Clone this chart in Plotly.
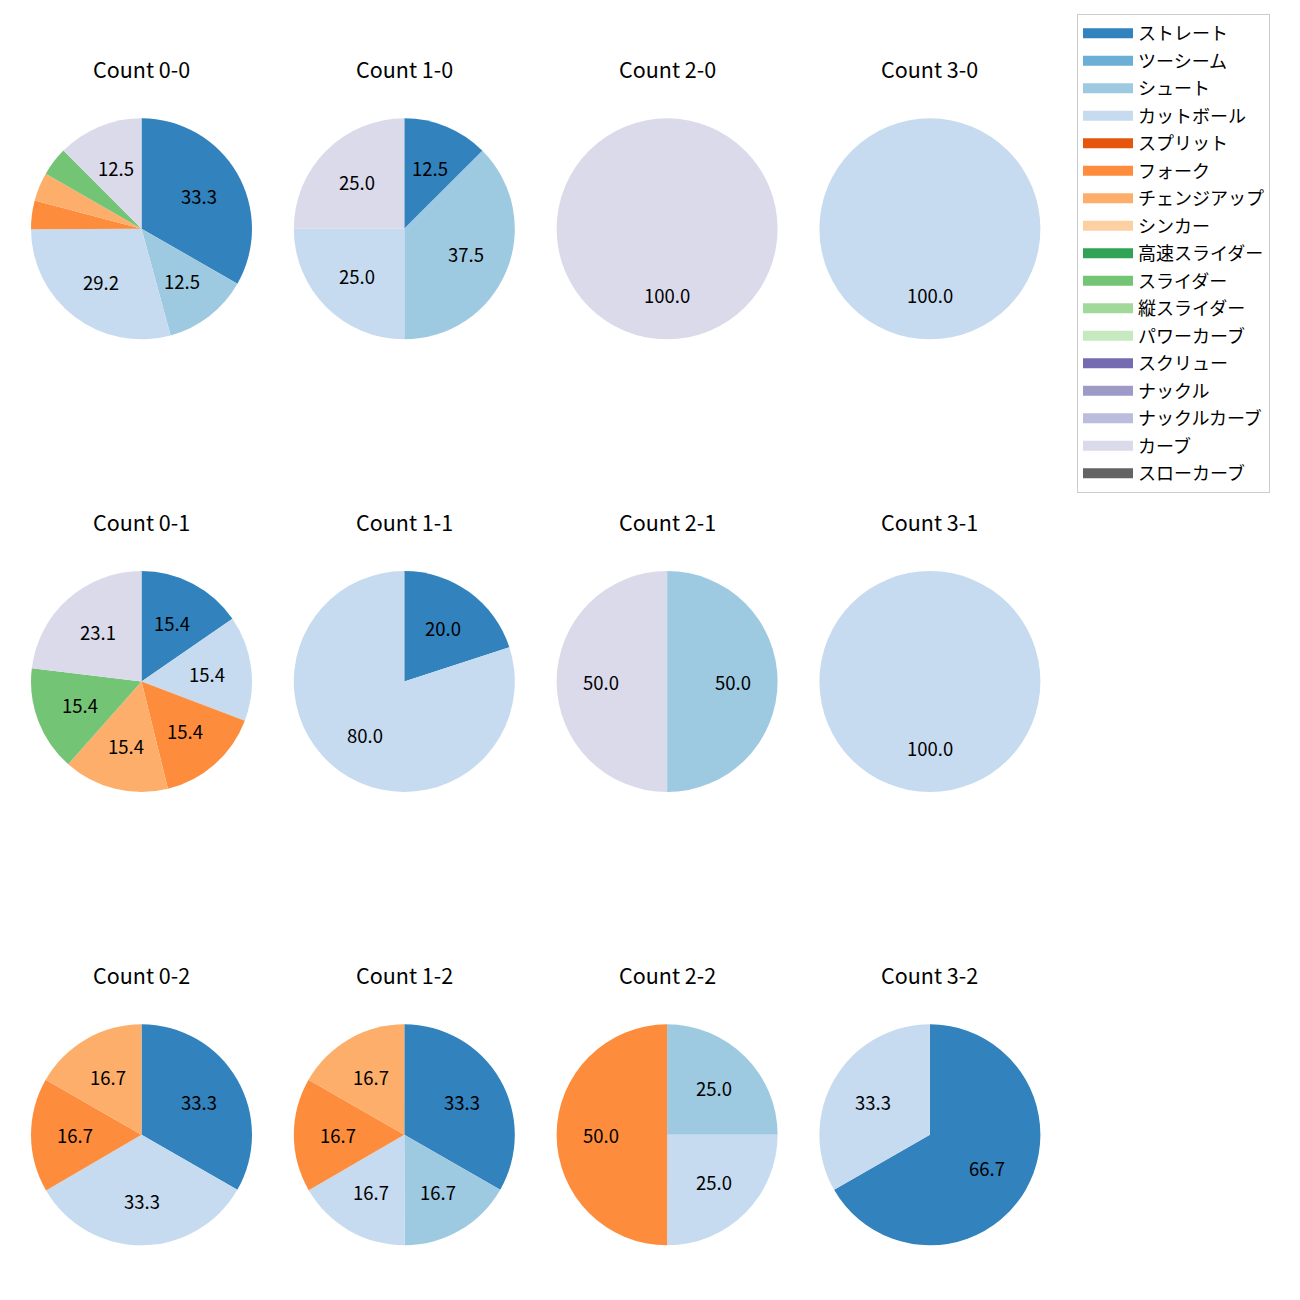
import math
import plotly.graph_objects as go

# ---- data ----
pitch_types = ["ストレート", "ツーシーム", "シュート", "カットボール", "スプリット", "フォーク",
               "チェンジアップ", "シンカー", "高速スライダー", "スライダー", "縦スライダー",
               "パワーカーブ", "スクリュー", "ナックル", "ナックルカーブ", "カーブ", "スローカーブ"]
pitch_colors = ["#3182bd", "#6baed6", "#9ecae1", "#c6dbef", "#e6550d", "#fd8d3c",
                "#fdae6b", "#fdd0a2", "#31a354", "#74c476", "#a1d99b", "#c7e9c0",
                "#756bb1", "#9e9ac8", "#bcbddc", "#dadaeb", "#636363"]

count_titles = ["Count 0-0", "Count 1-0", "Count 2-0", "Count 3-0",
                "Count 0-1", "Count 1-1", "Count 2-1", "Count 3-1",
                "Count 0-2", "Count 1-2", "Count 2-2", "Count 3-2"]

labels_00 = ["ストレート", "シュート", "カットボール", "フォーク", "チェンジアップ", "スライダー", "カーブ"]
values_00 = [33.3, 12.5, 29.2, 4.2, 4.2, 4.2, 12.5]
labels_10 = ["ストレート", "シュート", "カットボール", "カーブ"]
values_10 = [12.5, 37.5, 25.0, 25.0]
labels_20 = ["カーブ"]
values_20 = [100.0]
labels_30 = ["カットボール"]
values_30 = [100.0]
labels_01 = ["ストレート", "カットボール", "フォーク", "チェンジアップ", "スライダー", "カーブ"]
values_01 = [15.4, 15.4, 15.4, 15.4, 15.4, 23.1]
labels_11 = ["ストレート", "カットボール"]
values_11 = [20.0, 80.0]
labels_21 = ["シュート", "カーブ"]
values_21 = [50.0, 50.0]
labels_31 = ["カットボール"]
values_31 = [100.0]
labels_02 = ["ストレート", "カットボール", "フォーク", "チェンジアップ"]
values_02 = [33.3, 33.3, 16.7, 16.7]
labels_12 = ["ストレート", "シュート", "カットボール", "フォーク", "チェンジアップ"]
values_12 = [33.3, 16.7, 16.7, 16.7, 16.7]
labels_22 = ["シュート", "カットボール", "フォーク"]
values_22 = [25.0, 25.0, 50.0]
labels_32 = ["ストレート", "カットボール"]
values_32 = [66.7, 33.3]

all_labels = [labels_00, labels_10, labels_20, labels_30,
              labels_01, labels_11, labels_21, labels_31,
              labels_02, labels_12, labels_22, labels_32]
all_values = [values_00, values_10, values_20, values_30,
              values_01, values_11, values_21, values_31,
              values_02, values_12, values_22, values_32]

# ---- layout geometry (pixels) ----
W = H = 1300
col_cx = [141.5, 404.3, 667.1, 929.9]
row_cy = [228.8, 681.5, 1134.8]
R = 110.5
title_offset = 160
FONT = "Noto Sans CJK JP, Noto Sans, DejaVu Sans, sans-serif"
color_map = dict(zip(pitch_types, pitch_colors))

fig = go.Figure()
annotations = []

for i, (title, labs, vals) in enumerate(zip(count_titles, all_labels, all_values)):
    r, c = divmod(i, 4)
    cx, cy = col_cx[c], row_cy[r]
    fig.add_trace(go.Pie(
        labels=labs, values=vals, sort=False, direction="clockwise", rotation=0,
        marker=dict(colors=[color_map[l] for l in labs], line=dict(width=0)),
        textinfo="none", hoverinfo="label+percent", showlegend=False,
        domain=dict(x=[(cx - R) / W, (cx + R) / W], y=[1 - (cy + R) / H, 1 - (cy - R) / H]),
    ))
    total = sum(vals)
    cum = 0.0
    for v in vals:
        ang = 2 * math.pi * (cum + v / 2) / total
        cum += v
        pct = 100 * v / total
        if pct < 5:
            continue
        px = cx + 0.6 * R * math.sin(ang)
        py = cy - 0.6 * R * math.cos(ang)
        annotations.append(dict(x=px / W, y=1 - py / H, xref="paper", yref="paper",
                                text=f"{pct:.1f}", showarrow=False,
                                font=dict(size=18.5, color="black", family=FONT),
                                xanchor="center", yanchor="middle"))
    annotations.append(dict(x=cx / W, y=1 - (cy - title_offset) / H, xref="paper", yref="paper",
                            text=title, showarrow=False,
                            font=dict(size=21.5, color="black", family=FONT),
                            xanchor="center", yanchor="middle"))

# legend entries
for name, col in zip(pitch_types, pitch_colors):
    fig.add_trace(go.Scatter(x=[None], y=[None], mode="lines", name=name,
                             line=dict(color=col, width=13), legendgroup=name,
                             showlegend=True, hoverinfo="skip"))

fig.update_layout(
    width=W, height=H,
    margin=dict(l=0, r=0, t=0, b=0),
    paper_bgcolor="white", plot_bgcolor="white",
    xaxis=dict(visible=False, domain=[0.99, 1.0]),
    yaxis=dict(visible=False, domain=[0.0, 0.01]),
    annotations=annotations,
    legend=dict(x=1077 / W, y=1 - 14 / H, xanchor="left", yanchor="top",
                bgcolor="white", bordercolor="#cccccc", borderwidth=1,
                font=dict(size=18, family=FONT, color="black"),
                tracegroupgap=1.1, itemwidth=50),
    font=dict(family=FONT),
)

fig.write_html("out.html")
